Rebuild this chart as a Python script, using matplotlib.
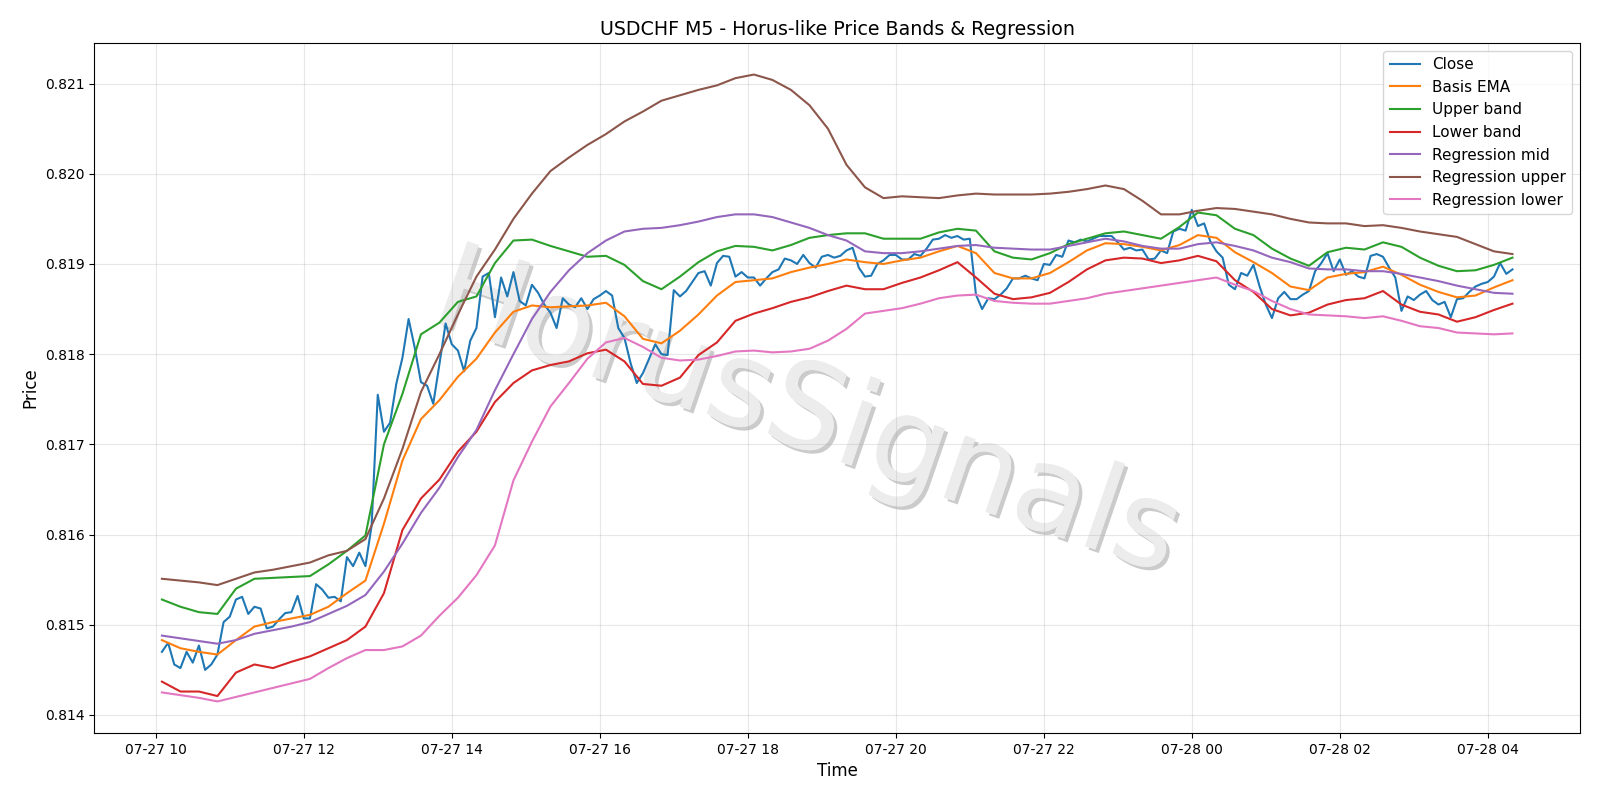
import matplotlib
matplotlib.use("Agg")
import matplotlib.pyplot as plt
import matplotlib.dates as mdates
import matplotlib.patheffects as pe
from matplotlib.ticker import FormatStrFormatter
import pandas as pd

# 5-minute bars, 07-27 10:05 .. 07-28 04:20
times = pd.date_range("2025-07-27 10:05", periods=220, freq="5min")

close = [
    0.81470, 0.81480, 0.81456, 0.81452, 0.81470, 0.81458, 0.81477, 0.81450, 0.81456, 0.81467,
    0.81503, 0.81509, 0.81528, 0.81531, 0.81512, 0.81520, 0.81518, 0.81496, 0.81498, 0.81506,
    0.81513, 0.81514, 0.81532, 0.81507, 0.81507, 0.81545, 0.81539, 0.81530, 0.81531, 0.81526,
    0.81575, 0.81565, 0.81580, 0.81565, 0.81610, 0.81755, 0.81714, 0.81724, 0.81767, 0.81796,
    0.81839, 0.81807, 0.81769, 0.81765, 0.81745, 0.81789, 0.81834, 0.81811, 0.81804, 0.81781,
    0.81815, 0.81829, 0.81886, 0.81890, 0.81841, 0.81885, 0.81864, 0.81891, 0.81859, 0.81854,
    0.81877, 0.81868, 0.81855, 0.81846, 0.81829, 0.81862, 0.81855, 0.81852, 0.81862, 0.81850,
    0.81861, 0.81865, 0.81870, 0.81865, 0.81829, 0.81818, 0.81790, 0.81768, 0.81779, 0.81795,
    0.81811, 0.81800, 0.81799, 0.81871, 0.81864, 0.81870, 0.81880, 0.81890, 0.81892, 0.81876,
    0.81901, 0.81909, 0.81908, 0.81886, 0.81891, 0.81885, 0.81885, 0.81876, 0.81884, 0.81891,
    0.81894, 0.81906, 0.81904, 0.81900, 0.81910, 0.81901, 0.81896, 0.81908, 0.81910, 0.81907,
    0.81909, 0.81915, 0.81918, 0.81896, 0.81886, 0.81887, 0.81900, 0.81904, 0.81910, 0.81910,
    0.81905, 0.81905, 0.81911, 0.81909, 0.81917, 0.81927, 0.81928, 0.81932, 0.81929, 0.81931,
    0.81927, 0.81928, 0.81866, 0.81850, 0.81862, 0.81861, 0.81866, 0.81873, 0.81884, 0.81884,
    0.81887, 0.81884, 0.81882, 0.81900, 0.81899, 0.81910, 0.81908, 0.81926, 0.81924, 0.81927,
    0.81925, 0.81928, 0.81931, 0.81931, 0.81931, 0.81924, 0.81916, 0.81918, 0.81915, 0.81916,
    0.81905, 0.81906, 0.81915, 0.81912, 0.81936, 0.81939, 0.81937, 0.81960, 0.81942, 0.81945,
    0.81925, 0.81914, 0.81907, 0.81877, 0.81872, 0.81890, 0.81887, 0.81899, 0.81875, 0.81855,
    0.81840, 0.81862, 0.81869, 0.81861, 0.81861, 0.81866, 0.81870, 0.81892, 0.81901, 0.81912,
    0.81892, 0.81905, 0.81888, 0.81892, 0.81886, 0.81884, 0.81909, 0.81911, 0.81908, 0.81896,
    0.81885, 0.81848, 0.81864, 0.81860, 0.81866, 0.81870, 0.81860, 0.81855, 0.81858, 0.81841,
    0.81861, 0.81862, 0.81869, 0.81875, 0.81878, 0.81880, 0.81886, 0.81901, 0.81889, 0.81894,
]

# smoother series read every 3rd bar (15 min)
t15 = times[::3]

basis_ema = [
    0.81483, 0.81474, 0.81470, 0.81467, 0.81483, 0.81498, 0.81503, 0.81507, 0.81511, 0.81520, 0.81535, 0.81549,
    0.81612, 0.81682, 0.81728, 0.81749, 0.81775, 0.81795, 0.81824, 0.81847, 0.81854, 0.81852, 0.81853, 0.81854,
    0.81857, 0.81842, 0.81817, 0.81812, 0.81826, 0.81844, 0.81865, 0.81880, 0.81882, 0.81884, 0.81891, 0.81896,
    0.81900, 0.81905, 0.81902, 0.81900, 0.81904, 0.81907, 0.81914, 0.81920, 0.81912, 0.81890, 0.81884, 0.81884,
    0.81890, 0.81902, 0.81915, 0.81923, 0.81922, 0.81919, 0.81915, 0.81921, 0.81932, 0.81929, 0.81913, 0.81902,
    0.81890, 0.81875, 0.81871, 0.81885, 0.81889, 0.81891, 0.81897, 0.81888, 0.81877, 0.81869, 0.81863, 0.81865,
    0.81874, 0.81882,
]

upper_band = [
    0.81528, 0.81520, 0.81514, 0.81512, 0.81540, 0.81551, 0.81552, 0.81553, 0.81554, 0.81567, 0.81582, 0.81599,
    0.81700, 0.81756, 0.81822, 0.81835, 0.81858, 0.81864, 0.81901, 0.81926, 0.81927, 0.81920, 0.81914, 0.81908,
    0.81909, 0.81899, 0.81881, 0.81872, 0.81886, 0.81902, 0.81914, 0.81920, 0.81919, 0.81915, 0.81921, 0.81929,
    0.81932, 0.81934, 0.81934, 0.81928, 0.81928, 0.81928, 0.81935, 0.81939, 0.81937, 0.81914, 0.81907, 0.81905,
    0.81912, 0.81922, 0.81928, 0.81934, 0.81936, 0.81932, 0.81928, 0.81941, 0.81957, 0.81954, 0.81939, 0.81932,
    0.81917, 0.81906, 0.81898, 0.81913, 0.81918, 0.81916, 0.81924, 0.81919, 0.81907, 0.81898, 0.81892, 0.81893,
    0.81899, 0.81907,
]

lower_band = [
    0.81437, 0.81426, 0.81426, 0.81421, 0.81447, 0.81456, 0.81452, 0.81459, 0.81465, 0.81474, 0.81483, 0.81498,
    0.81535, 0.81605, 0.81640, 0.81661, 0.81692, 0.81714, 0.81747, 0.81768, 0.81782, 0.81788, 0.81792, 0.81801,
    0.81805, 0.81792, 0.81767, 0.81765, 0.81774, 0.81799, 0.81813, 0.81837, 0.81845, 0.81851, 0.81858, 0.81863,
    0.81870, 0.81876, 0.81872, 0.81872, 0.81879, 0.81885, 0.81893, 0.81902, 0.81885, 0.81867, 0.81861, 0.81863,
    0.81868, 0.81880, 0.81894, 0.81904, 0.81907, 0.81906, 0.81901, 0.81904, 0.81909, 0.81903, 0.81882, 0.81869,
    0.81850, 0.81843, 0.81846, 0.81855, 0.81860, 0.81862, 0.81870, 0.81855, 0.81847, 0.81844, 0.81836, 0.81841,
    0.81849, 0.81856,
]

reg_mid = [
    0.81488, 0.81485, 0.81482, 0.81479, 0.81483, 0.81490, 0.81494, 0.81498, 0.81503, 0.81512, 0.81521, 0.81533,
    0.81559, 0.81590, 0.81624, 0.81652, 0.81686, 0.81716, 0.81760, 0.81800, 0.81839, 0.81869, 0.81893, 0.81912,
    0.81926, 0.81936, 0.81939, 0.81940, 0.81943, 0.81947, 0.81952, 0.81955, 0.81955, 0.81952, 0.81946, 0.81940,
    0.81932, 0.81926, 0.81914, 0.81912, 0.81912, 0.81914, 0.81917, 0.81920, 0.81921, 0.81918, 0.81917, 0.81916,
    0.81916, 0.81920, 0.81924, 0.81928, 0.81925, 0.81920, 0.81917, 0.81917, 0.81922, 0.81924, 0.81920, 0.81915,
    0.81907, 0.81902, 0.81895, 0.81894, 0.81894, 0.81892, 0.81892, 0.81889, 0.81885, 0.81881, 0.81876, 0.81872,
    0.81868, 0.81867,
]

reg_upper = [
    0.81551, 0.81549, 0.81547, 0.81544, 0.81551, 0.81558, 0.81561, 0.81565, 0.81569, 0.81577, 0.81582, 0.81595,
    0.81640, 0.81695, 0.81758, 0.81800, 0.81844, 0.81886, 0.81916, 0.81950, 0.81978, 0.82003, 0.82018, 0.82032,
    0.82044, 0.82058, 0.82069, 0.82081, 0.82087, 0.82093, 0.82098, 0.82106, 0.82110, 0.82104, 0.82093, 0.82076,
    0.82050, 0.82010, 0.81985, 0.81973, 0.81975, 0.81974, 0.81973, 0.81976, 0.81978, 0.81977, 0.81977, 0.81977,
    0.81978, 0.81980, 0.81983, 0.81987, 0.81983, 0.81970, 0.81955, 0.81955, 0.81959, 0.81962, 0.81961, 0.81958,
    0.81955, 0.81950, 0.81946, 0.81945, 0.81945, 0.81942, 0.81943, 0.81940, 0.81936, 0.81933, 0.81930, 0.81922,
    0.81914, 0.81911,
]

reg_lower = [
    0.81425, 0.81422, 0.81419, 0.81415, 0.81420, 0.81425, 0.81430, 0.81435, 0.81440, 0.81452, 0.81463, 0.81472,
    0.81472, 0.81476, 0.81488, 0.81510, 0.81530, 0.81555, 0.81588, 0.81660, 0.81703, 0.81742, 0.81768, 0.81795,
    0.81813, 0.81818, 0.81808, 0.81796, 0.81793, 0.81794, 0.81798, 0.81803, 0.81804, 0.81802, 0.81803, 0.81806,
    0.81815, 0.81828, 0.81845, 0.81848, 0.81851, 0.81856, 0.81862, 0.81865, 0.81866, 0.81859, 0.81857, 0.81856,
    0.81856, 0.81859, 0.81862, 0.81867, 0.81870, 0.81873, 0.81876, 0.81879, 0.81882, 0.81885, 0.81877, 0.81870,
    0.81859, 0.81850, 0.81844, 0.81843, 0.81842, 0.81840, 0.81842, 0.81837, 0.81831, 0.81829, 0.81824, 0.81823,
    0.81822, 0.81823,
]

fig, ax = plt.subplots(figsize=(16, 8), dpi=100)
fig.subplots_adjust(left=0.059, right=0.9875, top=0.946, bottom=0.084)

ax.plot(times, close, label="Close", color="tab:blue")
ax.plot(t15, basis_ema, label="Basis EMA", color="tab:orange")
ax.plot(t15, upper_band, label="Upper band", color="tab:green")
ax.plot(t15, lower_band, label="Lower band", color="tab:red")
ax.plot(t15, reg_mid, label="Regression mid", color="tab:purple")
ax.plot(t15, reg_upper, label="Regression upper", color="tab:brown")
ax.plot(t15, reg_lower, label="Regression lower", color="tab:pink")

# watermark, light with a soft shadow
ax.text(0.48, 0.46, "HorusSignals", transform=ax.transAxes, fontsize=86,
        color="#ececec", rotation=-19, ha="center", va="center", zorder=0.5,
        path_effects=[pe.withSimplePatchShadow(offset=(2.5, -2.5), shadow_rgbFace="#8c8c8c", alpha=0.45),
                      pe.Normal()])

ax.set_title("USDCHF M5 - Horus-like Price Bands & Regression", fontsize=13.7)
ax.set_xlabel("Time", fontsize=12)
ax.set_ylabel("Price", fontsize=12)
ax.xaxis.set_major_locator(mdates.HourLocator(byhour=range(0, 24, 2)))
ax.xaxis.set_major_formatter(mdates.DateFormatter("%m-%d %H"))
ax.yaxis.set_major_formatter(FormatStrFormatter("%.3f"))
ax.grid(True, alpha=0.3)
ax.legend(loc="upper right", fontsize=11)

fig.savefig("out.png")
